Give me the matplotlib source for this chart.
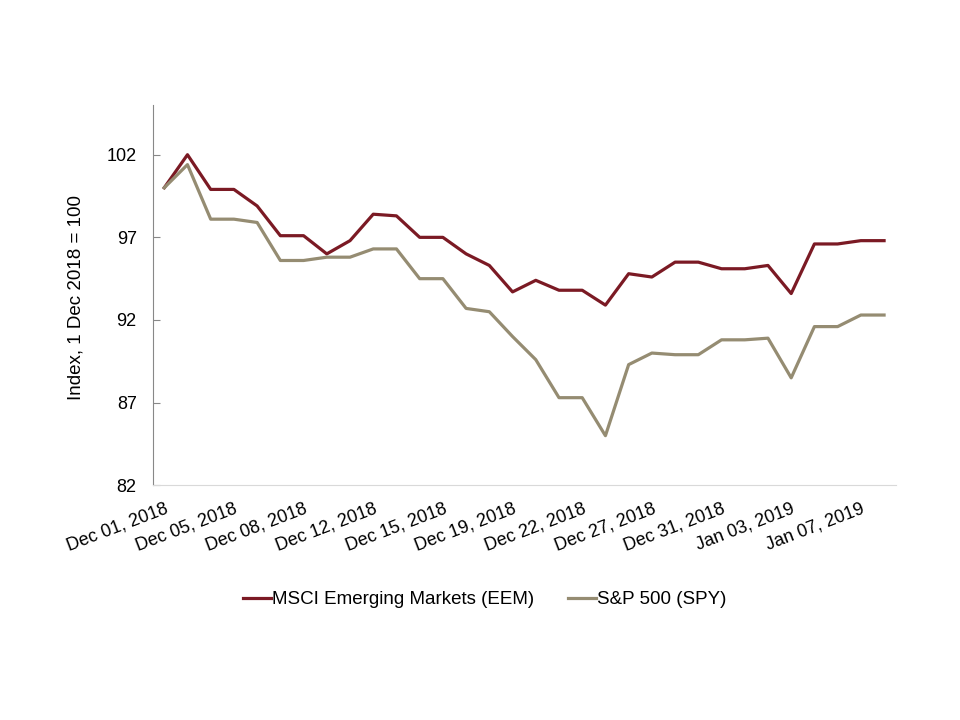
import numpy as np
import matplotlib.pyplot as plt

plt.rcParams['font.family'] = ['Liberation Sans', 'DejaVu Sans']

# index values, one per observation (32 observations)
eem = [100.0, 102.0, 99.9, 99.9, 98.9, 97.1, 97.1, 96.0, 96.8, 98.4, 98.3, 97.0, 97.0, 96.0, 95.3, 93.7,
       94.4, 93.8, 93.8, 92.9, 94.8, 94.6, 95.5, 95.5, 95.1, 95.1, 95.3, 93.6, 96.6, 96.6, 96.8, 96.8]
spy = [100.0, 101.4, 98.1, 98.1, 97.9, 95.6, 95.6, 95.8, 95.8, 96.3, 96.3, 94.5, 94.5, 92.7, 92.5, 91.0,
       89.6, 87.3, 87.3, 85.0, 89.3, 90.0, 89.9, 89.9, 90.8, 90.8, 90.9, 88.5, 91.6, 91.6, 92.3, 92.3]
tick_labels = ["Dec 01, 2018", "Dec 05, 2018", "Dec 08, 2018", "Dec 12, 2018", "Dec 15, 2018",
               "Dec 19, 2018", "Dec 22, 2018", "Dec 27, 2018", "Dec 31, 2018", "Jan 03, 2019",
               "Jan 07, 2019"]
label_step = 3

c_eem = '#7B1A24'
c_spy = '#958C72'

fig = plt.figure(figsize=(9.6, 7.2), dpi=100)
ax = fig.add_axes([0.159, 0.326, 0.774, 0.528])

x = np.arange(len(eem))
ax.plot(x, eem, color=c_eem, lw=2.3, label="MSCI Emerging Markets (EEM)")
ax.plot(x, spy, color=c_spy, lw=2.3, label="S&P 500 (SPY)")

ax.set_xlim(-0.5, len(eem) - 0.5)
ax.set_ylim(82, 105)
ax.set_yticks([82, 87, 92, 97, 102])
ax.set_xticks(x[::label_step])
ax.set_xticklabels(tick_labels, rotation=21, ha='right', va='top', rotation_mode='anchor')

ax.tick_params(axis='y', direction='in', length=5, color='#888888', labelsize=13, pad=11.5)
ax.tick_params(axis='x', length=0, labelsize=13, pad=11)
for s in ['top', 'right']:
    ax.spines[s].set_visible(False)
ax.spines['left'].set_color('#888888')
ax.spines['bottom'].set_color('#d9d9d9')

ax.set_ylabel("Index, 1 Dec 2018 = 100", fontsize=13.5, va='center')
ax.yaxis.set_label_coords(-0.103, 0.493)

fig.legend(loc='center', bbox_to_anchor=(0.505, 0.167), ncol=2, frameon=False, fontsize=13.5,
           handlelength=1.5, handletextpad=0.05, columnspacing=1.8)

fig.savefig("out.png", dpi=100)
